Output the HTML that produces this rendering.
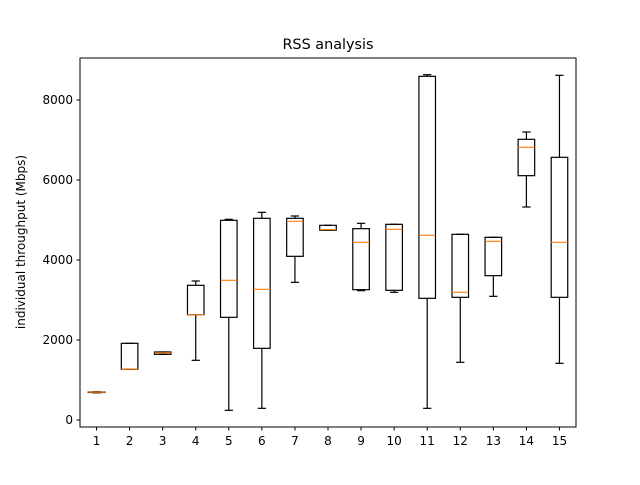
<!DOCTYPE html>
<html><head><meta charset="utf-8"><style>
body{margin:0;background:#fff}
svg text{font-family:"DejaVu Sans","Liberation Sans",sans-serif;fill:#000}
</style></head><body>
<svg id="chart" width="640" height="480">
<rect x="0" y="0" width="640" height="480" fill="#fff"/>
<text x="328" y="49" font-size="14.4" text-anchor="middle">RSS analysis</text>
<text transform="translate(25,242) rotate(-90)" font-size="12" text-anchor="middle">individual throughput (Mbps)</text>
<g id="marks"></g>
<g id="axes"></g>
</svg>
<script>
const categories=[1,2,3,4,5,6,7,8,9,10,11,12,13,14,15];
const mins=[680,1267,1642,1492,242,292,3442,4742,3233,3192,292,1442,3092,5325,1417];
const q1s=[690,1267,1642,2633,2567,1792,4092,4742,3258,3242,3042,3067,3608,6108,3067];
const medians=[695,1270,1680,2633,3492,3267,4967,4758,4442,4767,4617,3192,4467,6817,4442];
const q3s=[700,1917,1700,3367,4992,5042,5042,4867,4783,4892,8592,4642,4567,7017,6567];
const maxs=[705,1917,1700,3475,5017,5192,5100,4867,4917,4892,8633,4642,4567,7200,8617];
const yTicks=[0,2000,4000,6000,8000];
const L=80,R=576,T=58,B=427;
const xS=v=>L+(v-0.5)*(R-L)/15;
const yS=v=>420-v*0.04;
const NS="http://www.w3.org/2000/svg";
function mk(tag,attrs,parent){const e=document.createElementNS(NS,tag);for(const k in attrs)e.setAttribute(k,attrs[k]);parent.appendChild(e);return e;}
const marks=document.getElementById('marks'),axes=document.getElementById('axes');
categories.forEach((c,i)=>{
  const g=mk('g',{},marks);
  
  
  const x=xS(c),hw=8.27,cw=4.13;
  const st={stroke:'#000','stroke-width':1.2,fill:'none'};
  mk('line',Object.assign({x1:x,x2:x,y1:yS(q1s[i]),y2:yS(mins[i])},st),g);
  mk('line',Object.assign({x1:x,x2:x,y1:yS(q3s[i]),y2:yS(maxs[i])},st),g);
  mk('line',Object.assign({x1:x-cw,x2:x+cw,y1:yS(mins[i]),y2:yS(mins[i])},st),g);
  mk('line',Object.assign({x1:x-cw,x2:x+cw,y1:yS(maxs[i]),y2:yS(maxs[i])},st),g);
  mk('rect',Object.assign({x:x-hw,y:yS(q3s[i]),width:2*hw,height:Math.max(0.5,yS(q1s[i])-yS(q3s[i]))},st),g);
  const m=mk('line',{x1:x-hw,x2:x+hw,y1:yS(medians[i]),y2:yS(medians[i]),stroke:'#ff7f0e','stroke-width':1.2},g);
  
  
});
const frame=mk('rect',{x:L,y:T,width:R-L,height:B-T,fill:'none',stroke:'#000','stroke-width':1},axes);


yTicks.forEach(v=>{
  mk('line',{x1:L-3.5,x2:L,y1:yS(v),y2:yS(v),stroke:'#000'},axes);
  const t=mk('text',{x:L-7,y:yS(v)+4,'font-size':12,'text-anchor':'end'},axes);
  t.textContent=v;
  
  
});
categories.forEach(c=>{
  mk('line',{x1:xS(c),x2:xS(c),y1:B,y2:B+3.5,stroke:'#000'},axes);
  const t=mk('text',{x:xS(c),y:B+18,'font-size':12,'text-anchor':'middle'},axes);
  t.textContent=c;
  
  
});
</script>
</body></html>
